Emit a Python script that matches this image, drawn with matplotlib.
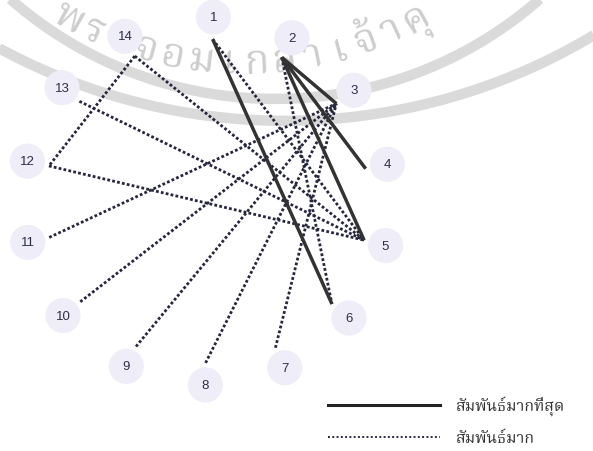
import numpy as np
import matplotlib
matplotlib.use("Agg")
import matplotlib.pyplot as plt
from matplotlib import font_manager
from matplotlib.ft2font import FT2Font
from matplotlib.lines import Line2D

# data
node_ids = list(range(1, 15))
strongest_links = [(1, 6), (2, 5), (2, 4), (2, 3)]
strong_links = [(14, 12), (14, 5), (13, 5), (12, 5), (1, 5), (11, 3), (10, 3),
                (9, 3), (8, 3), (7, 3), (2, 6)]
legend_labels = ["สัมพันธ์มากที่สุด", "สัมพันธ์มาก"]
# watermark letters (base + marks kept together)
watermark_chars = ["พ", "ร", "ะ", "จ", "อ", "ม", "เ", "ก", "ล้", "า", "เ", "จ้", "า", "คุ"]


def find_thai_font():
    # pick an installed family that actually has Thai glyphs
    found = []
    for f in font_manager.fontManager.ttflist:
        try:
            if 0x0E01 in FT2Font(f.fname).get_charmap():
                found.append(f.name)
        except Exception:
            pass
    for pref in ["Noto Serif Thai", "Noto Sans Thai", "Noto Sans Thai Looped",
                 "Loma", "Garuda", "Norasi", "Kinnari", "Waree"]:
        if pref in found:
            return pref
    return found[0] if found else "DejaVu Sans"


thai = find_thai_font()
plt.rcParams["font.family"] = ["Liberation Sans", "DejaVu Sans"]

fig = plt.figure(figsize=(5.93, 4.52), dpi=100)
ax = fig.add_axes([0, 0, 1, 1])
ax.set_xlim(-207 / 184, 386 / 184)
ax.set_ylim(-250 / 184, 202 / 184)
ax.axis("off")

# circular layout: labels on radius 1, line ends a bit inside
n = len(node_ids)
ang = np.radians(2.0 + 25.5 * np.arange(n))
lx, ly = np.sin(ang), np.cos(ang)
px, py = 0.88 * np.sin(ang), 0.88 * np.cos(ang)

# faded seal watermark in the background
t = np.radians(np.linspace(-70, 70, 300))
for cx, cy, r in [(0.370, 2.734, 2.179), (0.424, 3.696, 3.26)]:
    ax.plot(cx + r * np.sin(t), cy - r * np.cos(t), color="#dadada", lw=7.5, zorder=0,
            solid_capstyle="butt")
wcx, wcy, wr = 0.190, 2.701, 2.005
wa = np.radians(np.linspace(-28.9, 29.1, len(watermark_chars)))
for a, ch in zip(wa, watermark_chars):
    ax.text(wcx + wr * np.sin(a), wcy - wr * np.cos(a), ch, rotation=np.degrees(a),
            rotation_mode="anchor", ha="center", va="baseline", fontsize=30,
            weight="bold", color="#cdcdcd", family=[thai, "DejaVu Sans"], zorder=0)

# node discs and labels
ax.scatter(lx, ly, s=640, color="#eeedf8", edgecolors="none", zorder=1)
for i, k in enumerate(node_ids):
    ax.text(lx[i], ly[i], str(k), ha="center", va="center", fontsize=9.5,
            color="#2e2e48", zorder=4)

# links
for a, b in strong_links:
    ax.plot([px[a - 1], px[b - 1]], [py[a - 1], py[b - 1]], color="#26263c",
            lw=2.0, linestyle=(0, (1.0, 0.8)), zorder=2)
for a, b in strongest_links:
    ax.plot([px[a - 1], px[b - 1]], [py[a - 1], py[b - 1]], color="#333333",
            lw=2.5, solid_capstyle="butt", zorder=3)

handles = [Line2D([], [], color="#222222", lw=2.2),
           Line2D([], [], color="#2a2a42", lw=1.4, linestyle=(0, (1.0, 1.2)))]
ax.legend(handles, legend_labels, loc="center left",
          bbox_to_anchor=(328 / 593, 1 - 422 / 452), frameon=False,
          prop={"family": [thai, "DejaVu Sans"], "size": 11.5},
          handlelength=7.0, handletextpad=1.0, labelspacing=0.85,
          borderpad=0, borderaxespad=0, labelcolor="#333333")

fig.savefig("out.png", dpi=100, facecolor="white")
